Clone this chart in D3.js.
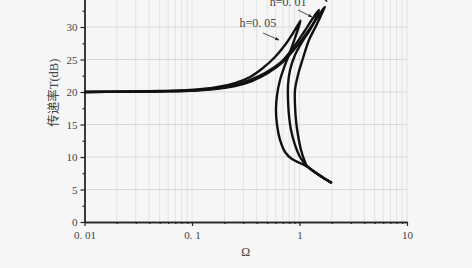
<!DOCTYPE html>
<html>
<head>
<meta charset="utf-8">
<script src="https://cdn.jsdelivr.net/npm/d3@7/dist/d3.min.js"></script>
<style>
body { margin: 0; background: #f6f6f6; }
text { font-family: "Liberation Serif", "DejaVu Serif", "Noto Sans CJK SC", serif; fill: #444; }
</style>
</head>
<body>
<div id="chart"></div>
<script>
// tick labels (as printed, wide period)
var xMajor = [0.01, 0.1, 1, 10],
    xMajorLabels = ["0. 01", "0. 1", "1", "10"],
    yMajor = [0, 5, 10, 15, 20, 25, 30],
    yMinor = [2.5, 7.5, 12.5, 17.5, 22.5, 27.5, 32.5];

// [Ω, T(dB)], one path per damping ratio
var curveH005 = [
  [0.01, 20.0], [0.0214, 20.06], [0.0503, 20.15], [0.0957, 20.31], [0.164, 20.69],
  [0.251, 21.38], [0.347, 22.31], [0.457, 23.69], [0.592, 25.38], [0.733, 27.23],
  [0.871, 29.08], [0.968, 30.31], [1.021, 30.97],
  [0.989, 30.15], [0.908, 28.31], [0.817, 26.15], [0.733, 24.15], [0.659, 21.85],
  [0.618, 19.54], [0.604, 17.23], [0.618, 14.92], [0.659, 12.62], [0.733, 10.77],
  [0.851, 9.69], [1.011, 9.08], [1.149, 8.62], [1.518, 7.23], [2.0, 6.0]
];
var curveH003 = [
  [0.01, 20.0], [0.0214, 20.05], [0.0503, 20.11], [0.0957, 20.23], [0.164, 20.54],
  [0.251, 21.08], [0.347, 21.85], [0.477, 22.92], [0.659, 24.46], [0.871, 26.77],
  [1.102, 29.23], [1.335, 31.38], [1.518, 32.62],
  [1.455, 31.69], [1.252, 29.54], [1.055, 27.69], [0.908, 25.69], [0.817, 23.38],
  [0.782, 21.08], [0.782, 18.77], [0.798, 16.46], [0.834, 14.15], [0.908, 11.85],
  [1.011, 10.0], [1.149, 8.77], [1.518, 7.23], [2.0, 6.0]
];
var curveH001 = [
  [0.01, 20.0], [0.0214, 20.03], [0.0503, 20.08], [0.0957, 20.18], [0.164, 20.46],
  [0.251, 20.92], [0.361, 21.69], [0.509, 22.92], [0.703, 24.62], [0.948, 27.08],
  [1.225, 29.54], [1.518, 31.85], [1.72, 33.1],
  [1.655, 32.46], [1.424, 30.15], [1.225, 28.0], [1.079, 25.23], [0.968, 22.62],
  [0.908, 20.31], [0.908, 18.0], [0.927, 15.69], [0.968, 13.38], [1.033, 11.08],
  [1.125, 9.23], [1.174, 8.62], [1.518, 7.23], [2.0, 6.0]
];

// annotations: label, label position [Ω, T], arrow from, arrow to
var notes = [
  {text: "h=0. 05", at: [0.411, 30.0], from: [0.457, 29.08], to: [0.644, 28.0]},
  {text: "h=0. 01", at: [0.782, 33.23], from: [0.968, 32.62], to: [1.306, 31.54]}
];
// arrow of a label that lies above the cropped top edge
var offArrow = {from: [1.62, 35.3], to: [1.803, 33.85]};

var viewbox_width = 472,
    viewbox_height = 268;

var x = d3.scaleLog().domain([0.01, 10]).range([84.5, 407]),
    y = d3.scaleLinear().domain([0, 35]).range([222, -5.5]);

var svg = d3.select("#chart").append("svg")
    .attr("width", viewbox_width)
    .attr("height", viewbox_height);

svg.append("defs").append("marker")
    .attr("id", "arr")
    .attr("viewBox", "0 0 10 10")
    .attr("refX", 9).attr("refY", 5)
    .attr("markerWidth", 5).attr("markerHeight", 5)
    .attr("orient", "auto")
  .append("path")
    .attr("d", "M0,1L10,5L0,9z")
    .attr("fill", "#222");

// grid
var xGrid = x.ticks().filter(function(d) { return d > 0.0101; });
svg.append("g").selectAll("line")
    .data(xGrid)
  .enter().append("line")
    .attr("x1", function(d) { return x(d); })
    .attr("x2", function(d) { return x(d); })
    .attr("y1", y(0)).attr("y2", y(35))
    .attr("stroke", "#e2e2e2").attr("stroke-width", 1);

svg.append("g").selectAll("line")
    .data([5, 10, 15, 20, 25, 30, 35])
  .enter().append("line")
    .attr("x1", x(0.01)).attr("x2", x(10))
    .attr("y1", function(d) { return y(d); })
    .attr("y2", function(d) { return y(d); })
    .attr("stroke", "#d8d8d8").attr("stroke-width", 1);

// axes
var xaxisg = svg.append("g")
    .attr("transform", "translate(0," + y(0) + ")")
    .call(d3.axisBottom(x).tickValues(xMajor).tickSize(4).tickSizeOuter(0)
      .tickFormat(function(d, i) { return xMajorLabels[i]; }));
svg.append("g")
    .attr("transform", "translate(0," + y(0) + ")")
    .call(d3.axisBottom(x).tickValues(xGrid.filter(function(d) { return xMajor.indexOf(d) < 0; }))
      .tickSize(2).tickSizeOuter(0).tickFormat(""));

var yaxisg = svg.append("g")
    .attr("transform", "translate(" + x(0.01) + ",0)")
    .call(d3.axisLeft(y).tickValues(yMajor).tickSize(4).tickSizeOuter(0));
svg.append("g")
    .attr("transform", "translate(" + x(0.01) + ",0)")
    .call(d3.axisLeft(y).tickValues(yMinor).tickSize(2).tickSizeOuter(0).tickFormat(""));

svg.selectAll(".domain").attr("stroke", "#222").attr("stroke-width", 1.3);
svg.selectAll(".tick line").attr("stroke", "#222").attr("stroke-width", 1.2);
xaxisg.selectAll(".tick text").attr("y", 9).style("font-size", "11px").attr("fill", "#444");
yaxisg.selectAll(".tick text").attr("x", -7).style("font-size", "11px").attr("fill", "#444");

// axis labels
svg.append("text")
    .attr("x", (x(0.01) + x(10)) / 2)
    .attr("y", 256)
    .style("text-anchor", "middle")
    .style("font-size", "12px")
    .text("Ω");

svg.append("text")
    .attr("transform", "translate(58," + y(19.9) + ")rotate(-90)")
    .style("text-anchor", "middle")
    .style("font-size", "12.5px")
    .text("传递率T(dB)");

// curves
var line = d3.line()
    .x(function(d) { return x(d[0]); })
    .y(function(d) { return y(d[1]); })
    .curve(d3.curveCatmullRom.alpha(0.5));

svg.append("g").selectAll("path")
    .data([curveH005, curveH003, curveH001])
  .enter().append("path")
    .attr("d", line)
    .attr("fill", "none")
    .attr("stroke", "#111")
    .attr("stroke-width", 2.4)
    .attr("stroke-linejoin", "round");

// annotations
var noteg = svg.append("g");
noteg.selectAll("text")
    .data(notes)
  .enter().append("text")
    .attr("x", function(d) { return x(d.at[0]); })
    .attr("y", function(d) { return y(d.at[1]); })
    .style("text-anchor", "middle")
    .style("font-size", "12px")
    .text(function(d) { return d.text; });
noteg.selectAll("line")
    .data(notes.concat([offArrow]))
  .enter().append("line")
    .attr("x1", function(d) { return x(d.from[0]); })
    .attr("y1", function(d) { return y(d.from[1]); })
    .attr("x2", function(d) { return x(d.to[0]); })
    .attr("y2", function(d) { return y(d.to[1]); })
    .attr("stroke", "#222")
    .attr("stroke-width", 0.8)
    .attr("marker-end", "url(#arr)");
</script>
</body>
</html>
